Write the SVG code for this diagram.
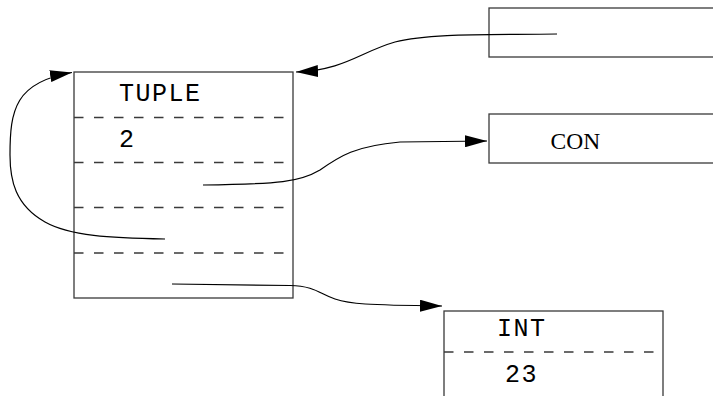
<svg xmlns="http://www.w3.org/2000/svg" width="713" height="396" viewBox="0 0 713 396">
<style>
.box{fill:none;stroke:#3a3a3a;stroke-width:1.3}
.dash{fill:none;stroke:#3a3a3a;stroke-width:1.3;stroke-dasharray:9.5 10.5}
.mono{font-family:"Liberation Mono","DejaVu Sans Mono",monospace;font-size:25px;letter-spacing:1.5px;fill:#000}
.serif{font-family:"Liberation Serif","DejaVu Serif",serif;font-size:23.5px;fill:#000}
.conn{fill:none;stroke:#000;stroke-width:1.2;marker-end:url(#arr)}
</style>
<defs>
<marker id="arr" markerUnits="userSpaceOnUse" markerWidth="22" markerHeight="12" refX="22" refY="6" orient="auto">
<path d="M0,0 L22,6 L0,12 z" fill="#000"/>
</marker>
</defs>
<rect width="713" height="396" fill="#fff"/>
<g id="tuple">
<rect class="box" x="74" y="72" width="219" height="226"/>
<line class="dash" x1="74" y1="117.5" x2="287" y2="117.5"/>
<line class="dash" x1="74" y1="162.5" x2="287" y2="162.5"/>
<line class="dash" x1="74" y1="207.5" x2="287" y2="207.5"/>
<line class="dash" x1="74" y1="253" x2="287" y2="253"/>
<text class="mono" x="119" y="101">TUPLE</text>
<text class="mono" x="119" y="147">2</text>
</g>
<g id="ref">
<rect class="box" x="489" y="8" width="240" height="49"/>
</g>
<g id="con">
<rect class="box" x="489" y="114" width="240" height="49"/>
<text class="serif" x="550.5" y="148.5">CON</text>
</g>
<g id="int">
<rect class="box" x="444" y="311" width="219" height="100"/>
<line class="dash" x1="444" y1="352" x2="657" y2="352"/>
<text class="mono" x="497" y="336">INT</text>
<text class="mono" x="505" y="382">23</text>
</g>
<g id="connectors">
<path class="conn" d="M557,34 C490,35 430,33 395,42 C360,52 345,70 296,72"/>
<path class="conn" d="M203,185 C280,184 300,182 320,170 C340,156 355,146 400,142 L487,141"/>
<path class="conn" d="M165,239 C110,238 70,236 45,222 C15,205 10,180 10,155 C10,110 15,82 72,72.5"/>
<path class="conn" d="M172,284 L290,285.5 C315,286 320,294 335,299 C350,304 365,305 442,306"/>
</g>
</svg>
